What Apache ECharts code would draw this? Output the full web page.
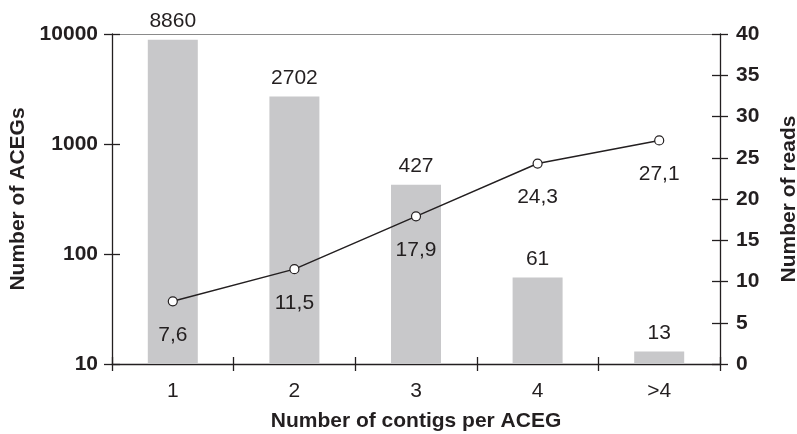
<!DOCTYPE html>
<html>
<head>
<meta charset="utf-8">
<script src="https://cdn.jsdelivr.net/npm/echarts@6/dist/echarts.min.js"></script>
<style>html,body{margin:0;padding:0;background:#fff;}#c{width:797px;height:434px;}</style>
</head>
<body>
<div id="c"></div>
<script>
var categories = ['1', '2', '3', '4', '>4'];
var aceg = [8860, 2702, 427, 61, 13];
var reads = [7.6, 11.5, 17.9, 24.3, 27.1];
var leftTicks = [10, 100, 1000, 10000];
var rightTicks = [0, 5, 10, 15, 20, 25, 30, 35, 40];

var FONT = 'Liberation Sans';
var INK = '#231f20';
var FS = 21;
var chart = echarts.init(document.getElementById('c'), null, {renderer: 'canvas'});
var axisLineStyle = {color: INK, width: 1.3};

chart.setOption({
  animation: false,
  backgroundColor: '#fff',
  textStyle: {fontFamily: FONT, color: INK},
  grid: {left: 112, right: 77, top: 34, bottom: 70, containLabel: false, outerBoundsMode: 'none'},
  xAxis: [
    {
      type: 'category', data: categories, position: 'bottom',
      axisLine: {show: true, lineStyle: axisLineStyle},
      axisTick: {show: true, length: 7, lineStyle: axisLineStyle},
      axisLabel: {fontSize: FS, color: INK, margin: 17, fontFamily: FONT},
      name: 'Number of contigs per ACEG', nameLocation: 'middle', nameGap: 47,
      nameTextStyle: {fontSize: FS, fontWeight: 'bold', color: INK, fontFamily: FONT},
      splitLine: {show: false}
    },
    {
      type: 'category', data: categories, position: 'bottom',
      axisLine: {show: false},
      axisTick: {show: true, inside: true, length: 7, lineStyle: axisLineStyle},
      axisLabel: {show: false}, splitLine: {show: false}
    },
    {
      type: 'category', data: categories, position: 'top',
      axisLine: {show: true, lineStyle: {color: '#8a8a8a', width: 1}},
      axisTick: {show: false}, axisLabel: {show: false}, splitLine: {show: false}
    }
  ],
  yAxis: [
    {
      type: 'log', logBase: 10, min: leftTicks[0], max: leftTicks[leftTicks.length - 1], position: 'left',
      axisLine: {show: true, lineStyle: axisLineStyle},
      axisTick: {show: true, length: 8, lineStyle: axisLineStyle},
      axisLabel: {fontSize: FS, fontWeight: 'bold', color: INK, margin: 14, fontFamily: FONT,
        formatter: function (v) { return String(Math.round(v)); }},
      splitLine: {show: false}, minorTick: {show: false},
      name: 'Number of ACEGs', nameLocation: 'middle', nameGap: 66, nameRotate: 90,
      nameTextStyle: {fontSize: FS, fontWeight: 'bold', color: INK, fontFamily: FONT}
    },
    {
      type: 'value', min: rightTicks[0], max: rightTicks[rightTicks.length - 1], interval: 5, position: 'right',
      axisLine: {show: true, lineStyle: axisLineStyle},
      axisTick: {show: true, length: 8, lineStyle: axisLineStyle},
      axisLabel: {fontSize: FS, fontWeight: 'bold', color: INK, margin: 16, fontFamily: FONT},
      splitLine: {show: false},
      name: 'Number of reads', nameLocation: 'middle', nameGap: 59, nameRotate: 90,
      nameTextStyle: {fontSize: FS, fontWeight: 'bold', color: INK, fontFamily: FONT}
    },
    {
      type: 'log', logBase: 10, min: leftTicks[0], max: leftTicks[leftTicks.length - 1], position: 'left',
      axisLine: {show: false},
      axisTick: {show: true, inside: true, length: 8, lineStyle: axisLineStyle},
      axisLabel: {show: false}, splitLine: {show: false}
    },
    {
      type: 'value', min: rightTicks[0], max: rightTicks[rightTicks.length - 1], interval: 5, position: 'right',
      axisLine: {show: false},
      axisTick: {show: true, inside: true, length: 8, lineStyle: axisLineStyle},
      axisLabel: {show: false}, splitLine: {show: false}
    }
  ],
  series: [
    {
      type: 'bar', xAxisIndex: 0, yAxisIndex: 0, data: aceg, barWidth: 50,
      itemStyle: {color: '#c8c8ca'},
      label: {show: true, position: 'top', distance: 8, fontSize: FS, color: INK, fontFamily: FONT}
    },
    {
      type: 'line', xAxisIndex: 0, yAxisIndex: 1, data: reads,
      symbol: 'circle', symbolSize: 9,
      lineStyle: {color: INK, width: 1.5},
      itemStyle: {color: '#fff', borderColor: INK, borderWidth: 1.2},
      label: {show: true, position: 'bottom', distance: 18, fontSize: FS, color: INK, fontFamily: FONT,
        formatter: function (p) { return String(p.value).replace('.', ','); }},
      z: 5
    }
  ]
});
</script>
</body>
</html>
